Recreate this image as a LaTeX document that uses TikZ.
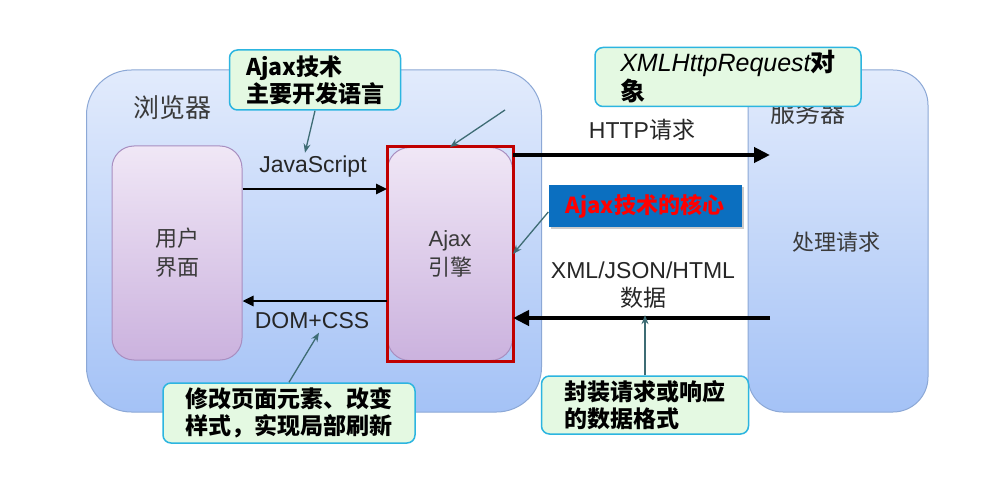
\documentclass[tikz,border=0pt]{standalone}
\usepackage{fontspec}
\setmainfont{Liberation Sans}
\newfontfamily\cjk{Noto Sans CJK SC}
\newcommand{\zh}[1]{{\cjk #1}}
\usetikzlibrary{positioning,arrows.meta,shadows}

\definecolor{paneedge}{RGB}{140,168,214}
\definecolor{panetop}{RGB}{226,235,252}
\definecolor{panebot}{RGB}{164,194,246}
\definecolor{lavedge}{RGB}{168,142,192}
\definecolor{lavtop}{RGB}{240,231,246}
\definecolor{lavbot}{RGB}{203,178,222}
\definecolor{notefill}{RGB}{228,249,226}
\definecolor{noteedge}{RGB}{44,181,224}
\definecolor{pointcol}{RGB}{62,108,116}
\definecolor{framered}{RGB}{192,0,0}
\definecolor{coreblue}{RGB}{11,111,192}
\definecolor{darktext}{RGB}{58,58,58}

\tikzset{
  pane/.style={draw=paneedge, line width=1pt, top color=panetop, bottom color=panebot},
  panel/.style={draw=lavedge, line width=1pt, top color=lavtop, bottom color=lavbot,
    rounded corners=22pt, align=center, text=darktext, font=\fontsize{22}{29}\selectfont},
  tagtext/.style={text=black!85, font=\fontsize{23}{28}\selectfont},
  note/.style={draw=noteedge, line width=1.5pt, fill=notefill, rounded corners=8pt,
    align=left, inner sep=2pt, font=\cjk\bfseries\fontsize{23}{27}\selectfont},
  pointer/.style={draw=pointcol, line width=1.3pt, -{Stealth[length=9pt,width=7pt]}},
  flow/.style={line width=2.6pt, -{Triangle[length=11pt,width=10pt]}},
  bigflow/.style={line width=4pt, -{Triangle[length=16pt,width=15pt]}},
  redframe/.style={draw=framered, line width=3pt},
  core/.style={fill=coreblue, drop shadow={shadow xshift=2pt,shadow yshift=-2pt,fill=black!40},
    text=red, font=\cjk\bfseries\fontsize{22}{26}\selectfont,
    minimum width=193pt, minimum height=42pt}
}

\begin{document}
\begin{tikzpicture}[x=1pt,y=-1pt]
  \useasboundingbox[fill=white] (0,0) rectangle (1004,492);

  % browser and server
  \node[pane, rounded corners=45pt, minimum width=455pt, minimum height=342pt] (browser) at (314,241) {};
  \node[text=darktext, font=\cjk\fontsize{26}{30}\selectfont] (browserlbl) at (172,108) {浏览器};
  \node[pane, rounded corners=35pt, minimum width=180pt, minimum height=342pt] (server) at (838,241) {};
  \node[text=darktext, font=\cjk\fontsize{25}{30}\selectfont] (serverlbl) at (808,113) {服务器};
  \node[text=darktext, font=\cjk\fontsize{22}{26}\selectfont] (handle) at (836,242) {处理请求};

  % user interface and engine
  \node[panel, minimum width=130pt, minimum height=214pt] (user) at (177,253) {\zh{用户}\\\zh{界面}};
  \node[panel, minimum width=125pt, minimum height=213pt] (engine) at (450,254) {Ajax\\\zh{引擎}};
  \draw[redframe] (engine.north west) rectangle (engine.south east);

  % inside the browser
  \draw[flow] ([yshift=64pt]user.east) -- ([yshift=64pt]user.east -| engine.west);
  \node[tagtext] (js) at (313,167) {JavaScript};
  \draw[flow] ([yshift=-47pt]engine.west) -- ([yshift=-47pt]engine.west -| user.east);
  \node[tagtext] (dom) at (312,321) {DOM+CSS};

  % to and from the server
  \coordinate (reqend) at (770,155);
  \draw[bigflow] (engine.east |- reqend) -- (reqend);
  \node[tagtext] (req) at (642,130) {HTTP\zh{请求}};
  \coordinate (resstart) at (770,318);
  \draw[bigflow] (resstart) -- (resstart -| engine.east);
  \node[tagtext] (xmllbl) at (643,270) {XML/JSON/HTML};
  \node[tagtext] (data) at (643,298) {\zh{数据}};

  \node[core] (core) at (645,206) {Ajax技术的核心};

  % callouts
  \node[note, minimum width=171pt, minimum height=60pt] (lang) at (315,80) {Ajax技术\\主要开发语言};
  \node[note, minimum width=266pt, minimum height=59pt, font=\fontsize{25}{29}\selectfont] (xhr) at (728,77)
    {{\itshape XMLHttpRequest}\zh{\bfseries 对}\\\zh{\bfseries 象}};
  \node[note, minimum width=252pt, minimum height=60pt] (edit) at (289,413) {修改页面元素、改变\\样式，实现局部刷新};
  \node[note, minimum width=207pt, minimum height=58pt] (fmt) at (645,405) {封装请求或响应\\的数据格式};

  \coordinate (xhrtail) at (505,110);
  \draw[pointer] (lang.south) -- ([xshift=-8pt]js.north);
  \draw[pointer] (xhrtail) -- (engine.north);
  \draw[pointer] ([yshift=-6pt]core.west) -- (engine.east);
  \draw[pointer] (edit.north) -- ([xshift=7pt]dom.south);
  \draw[pointer] (fmt.north) -- ([yshift=-3pt]fmt.north |- data.south);
\end{tikzpicture}
\end{document}
